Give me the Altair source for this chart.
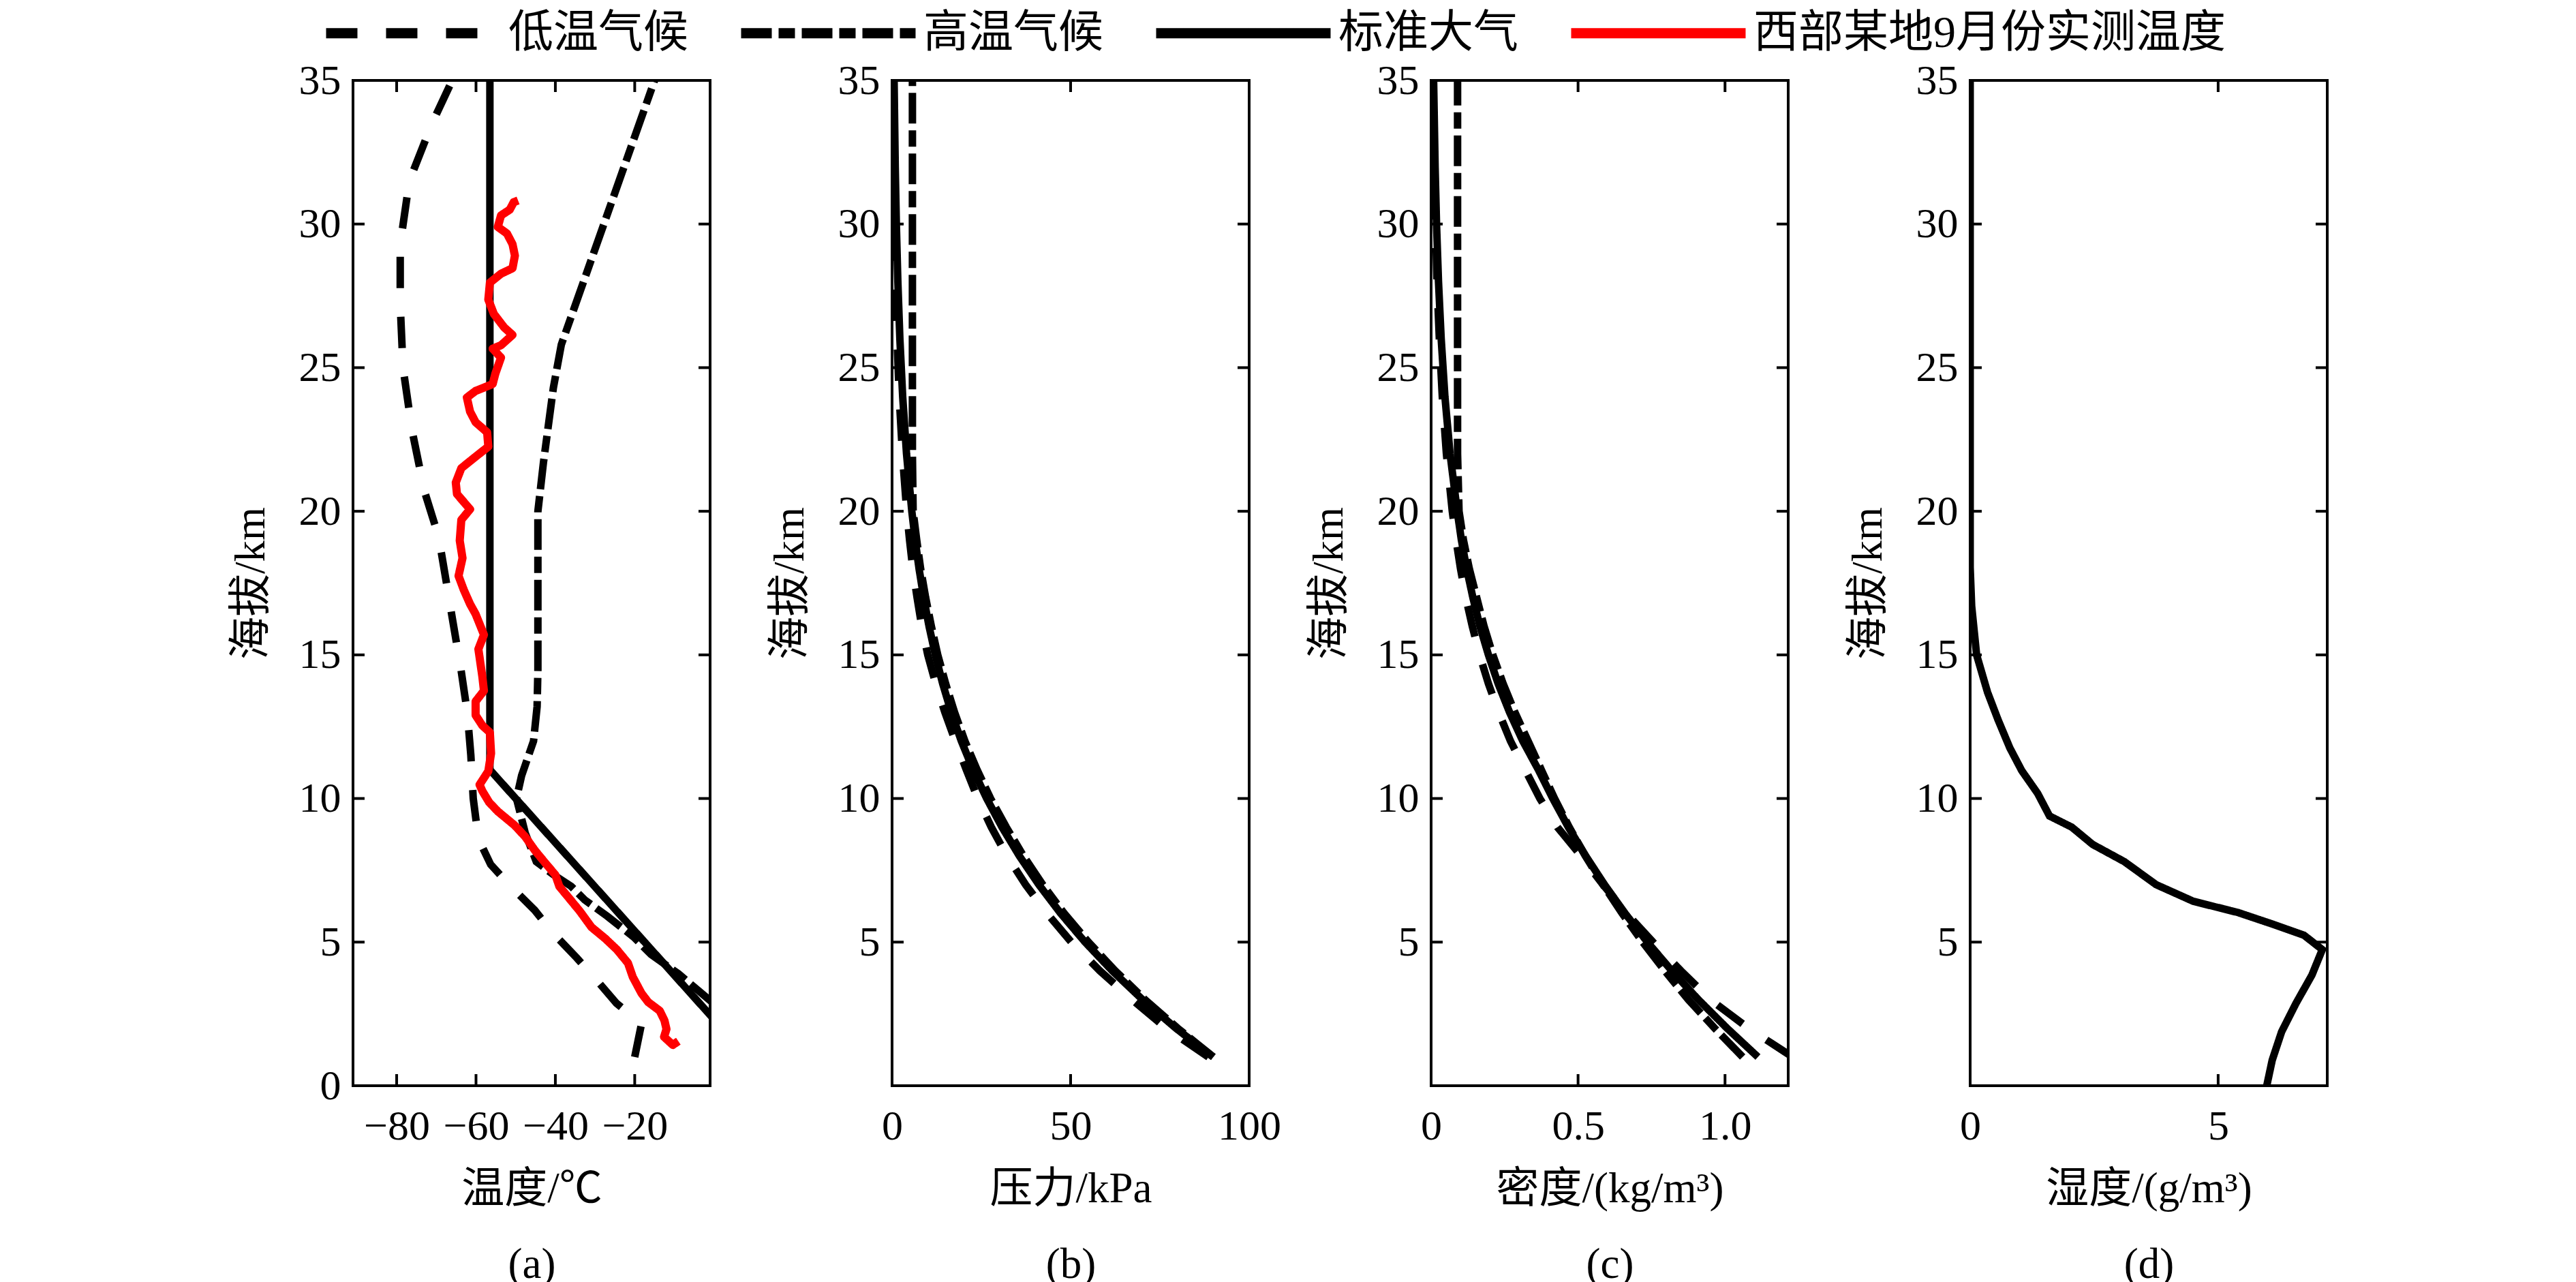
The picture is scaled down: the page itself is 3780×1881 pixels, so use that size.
import altair as alt
import pandas as pd

SERIES = ["低温气候", "高温气候", "标准大气", "西部某地9月份实测温度"]
COLORS = ["#000000", "#000000", "#000000", "#ff0000"]
DASHES = [[46, 42], [45, 10, 24, 10], [1, 0], [1, 0]]

# ---- panel (a): temperature (deg C) vs altitude (km)
A_LOW_T = [-20.0, -18.3, -24.6, -30.0, -34.6, -40.9, -45.2, -51.5, -56.3, -59.4, -60.7, -61.3,
           -62.2, -63.8, -66.0, -67.2, -69.4, -73.0, -76.1, -78.4, -79.1, -79.1, -76.8, -71.1, -66.0]
A_LOW_H = [1.0, 2.15, 2.87, 3.74, 4.45, 5.36, 6.11, 6.98, 7.7, 8.6, 10.0, 11.5,
           13.0, 14.5, 16.3, 17.3, 19.1, 20.7, 22.8, 25.0, 27.2, 29.3, 31.5, 33.5, 35.0]
A_HIGH_T = [0.0, -9.0, -15.9, -20.2, -26.9, -32.6, -36.0, -40.5, -44.8, -47.6, -49.8, -48.5,
            -45.5, -44.6, -44.4, -44.4, -43.0, -40.5, -38.5, -15.0]
A_HIGH_H = [2.85, 3.9, 4.57, 5.17, 5.9, 6.47, 6.94, 7.35, 7.8, 8.8, 10.0, 10.8,
            12.0, 13.2, 14.5, 20.0, 21.7, 24.3, 25.8, 35.0]
A_STD_T = [15.0, -56.5, -56.5]
A_STD_H = [0.0, 11.0, 35.0]
A_OBS_T = [-9.0, -10.4, -12.6, -12.0, -12.5, -13.7, -16.6, -18.3, -20.5, -21.7, -24.5, -27.4,
           -30.9, -33.8, -36.6, -39.0, -40.0, -42.4, -45.2, -47.6, -50.3, -54.5, -56.7, -58.4,
           -59.1, -56.9, -56.2, -56.5, -58.4, -60.1, -60.1, -58.0, -58.4, -59.4, -58.0, -60.1,
           -61.5, -63.1, -64.4, -63.4, -64.1, -63.7, -61.5, -64.8, -65.1, -63.7, -60.1, -56.9,
           -57.2, -60.1, -61.5, -62.3, -60.1, -55.8, -55.1, -53.7, -55.8, -53.7, -50.8, -52.9,
           -55.5, -56.9, -56.5, -53.7, -50.8, -50.2, -50.8, -52.2, -54.5, -53.7, -51.5, -50.5, -49.4]
A_OBS_H = [1.55, 1.42, 1.7, 1.97, 2.27, 2.61, 2.91, 3.22, 3.79, 4.27, 4.74, 5.12,
           5.52, 6.07, 6.54, 6.94, 7.34, 7.73, 8.2, 8.67, 9.07, 9.55, 9.87, 10.26,
           10.48, 10.95, 11.57, 12.3, 12.54, 12.9, 13.38, 13.75, 14.24, 15.2, 15.7, 16.42,
           16.77, 17.27, 17.75, 18.37, 18.98, 19.7, 20.07, 20.6, 21.0, 21.5, 21.9, 22.25,
           22.75, 23.1, 23.47, 23.96, 24.19, 24.43, 24.8, 25.35, 25.66, 25.78, 26.14, 26.4,
           26.87, 27.37, 27.96, 28.27, 28.46, 28.9, 29.3, 29.67, 29.9, 30.3, 30.5, 30.76, 30.82]

# ---- panels (b), (c): pressure (kPa) and density (kg/m3) vs altitude
BC_H = [1, 2, 3, 4, 5, 6, 7, 8, 9, 10, 11, 12, 13, 14, 15, 16, 17, 18, 19, 20, 22, 24, 26, 28, 30, 32, 35]
P_STD = [89.88, 79.50, 70.12, 61.66, 54.05, 47.22, 41.11, 35.65, 30.80, 26.50, 22.70, 19.40, 16.58, 14.17,
         12.11, 10.35, 8.85, 7.56, 6.47, 5.53, 4.05, 2.97, 2.19, 1.62, 1.20, 0.89, 0.57]
P_LOW = [88.6, 76.8, 67.2, 58.2, 50.2, 43.4, 37.4, 32.2, 27.8, 24.0, 20.8, 17.7, 14.8, 12.2,
         10.0, 8.3, 7.0, 5.8, 4.9, 4.1, 2.9, 2.0, 1.4, 1.0, 0.7, 0.5, 0.3]
P_HIGH = [90.0, 80.0, 70.8, 62.5, 55.0, 48.2, 42.2, 36.8, 32.0, 27.6, 23.8, 20.4, 17.5, 15.0,
          12.8, 11.0, 9.4, 8.0, 6.9, 5.9, 5.7, 5.7, 5.7, 5.7, 5.7, 5.7, 5.7]
D_STD = [1.112, 1.007, 0.909, 0.819, 0.736, 0.660, 0.590, 0.526, 0.467, 0.414, 0.365, 0.312, 0.267, 0.228,
         0.195, 0.166, 0.142, 0.121, 0.103, 0.0889, 0.0645, 0.0469, 0.0343, 0.0251, 0.0184, 0.0136, 0.0085]
D_LOW = [1.23, 1.08, 0.95, 0.85, 0.755, 0.665, 0.585, 0.51, 0.43, 0.37, 0.32, 0.27, 0.23, 0.195,
         0.165, 0.14, 0.118, 0.1, 0.085, 0.072, 0.052, 0.038, 0.028, 0.02, 0.015, 0.011, 0.007]
D_HIGH = [1.06, 0.965, 0.875, 0.795, 0.72, 0.65, 0.585, 0.525, 0.47, 0.42, 0.375, 0.33, 0.285, 0.245,
          0.21, 0.18, 0.155, 0.13, 0.11, 0.095, 0.09, 0.09, 0.09, 0.09, 0.09, 0.09, 0.09]

# ---- panel (d): humidity (g/m3) vs altitude
HUM_H = [0.0, 0.89, 1.88, 2.87, 3.85, 4.74, 5.24, 5.63, 6.03, 6.42, 7.0, 7.8, 8.4, 9.0, 9.39,
         10.18, 10.97, 11.76, 12.75, 13.7, 15.0, 16.7, 18.05, 35.0]
HUM_V = [5.98, 6.09, 6.28, 6.57, 6.89, 7.10, 6.73, 6.09, 5.4, 4.5, 3.75, 3.11, 2.47, 2.05, 1.6,
         1.36, 1.04, 0.8, 0.56, 0.35, 0.13, 0.03, 0.0, 0.0]

# axis ticks / domains
A_XDOM = [-91, -1]
A_XTICKS = [-80, -60, -40, -20]
B_XDOM = [0, 100]
B_XTICKS = [0, 50, 100]
C_XDOM = [0, 1.215]
C_XTICKS = [0, 0.5, 1.0]
D_XDOM = [0, 7.2]
D_XTICKS = [0, 5]
Y_TICKS_A = [0, 5, 10, 15, 20, 25, 30, 35]
Y_TICKS = [5, 10, 15, 20, 25, 30, 35]

W, H = 524, 1475
TICK = 17
SERIF = "Liberation Serif, Noto Sans CJK SC"
# legend line symbol: a horizontal stroke ~256 px long drawn in a 60 px symbol box
LEG_SYMBOL = "M-4.2667,0H4.2667"


def frame(xs, hs, name):
    return pd.DataFrame({"x": xs, "h": hs, "s": name, "i": list(range(len(xs)))})


def panel(black_df, red_df, xdom, xticks, xtitle, yticks, label_expr=None):
    xs = alt.Scale(domain=xdom, nice=False, zero=False)
    ys = alt.Scale(domain=[0, 35], nice=False, zero=False)
    ax_kw = dict(values=xticks, title=xtitle, labelFlush=False, labelPadding=29,
                 titlePadding=30, titleLineHeight=111)
    if label_expr:
        ax_kw["labelExpr"] = label_expr
    x_axis = alt.Axis(**ax_kw)
    y_axis = alt.Axis(values=yticks, title="海拔/km", labelPadding=18, titlePadding=38)
    leg = alt.Legend(title=None)
    enc = dict(
        x=alt.X("x:Q", scale=xs, axis=x_axis),
        y=alt.Y("h:Q", scale=ys, axis=y_axis),
        color=alt.Color("s:N", scale=alt.Scale(domain=SERIES, range=COLORS), legend=leg),
        strokeDash=alt.StrokeDash("s:N", scale=alt.Scale(domain=SERIES, range=DASHES), legend=leg),
        order=alt.Order("i:Q"),
    )
    layers = [alt.Chart(black_df).mark_line(strokeWidth=11, clip=True, strokeCap="butt",
                                            strokeJoin="miter").encode(**enc)]
    if red_df is not None:
        layers.append(alt.Chart(red_df).mark_line(strokeWidth=12, clip=True,
                                                  strokeJoin="round").encode(**enc))
    xt = pd.DataFrame({"x": xticks})
    yt = pd.DataFrame({"h": yticks})
    rule = dict(color="black", strokeWidth=4)
    layers += [
        alt.Chart(xt).mark_rule(**rule).encode(x=alt.X("x:Q", scale=xs, axis=x_axis),
                                               y=alt.value(H), y2=alt.value(H - TICK)),
        alt.Chart(xt).mark_rule(**rule).encode(x=alt.X("x:Q", scale=xs, axis=x_axis),
                                               y=alt.value(0), y2=alt.value(TICK)),
        alt.Chart(yt).mark_rule(**rule).encode(y=alt.Y("h:Q", scale=ys, axis=y_axis),
                                               x=alt.value(0), x2=alt.value(TICK)),
        alt.Chart(yt).mark_rule(**rule).encode(y=alt.Y("h:Q", scale=ys, axis=y_axis),
                                               x=alt.value(W), x2=alt.value(W - TICK)),
    ]
    return alt.layer(*layers).properties(width=W, height=H)


a_black = pd.concat([frame(A_LOW_T, A_LOW_H, SERIES[0]), frame(A_HIGH_T, A_HIGH_H, SERIES[1]),
                     frame(A_STD_T, A_STD_H, SERIES[2])], ignore_index=True)
a_red = frame(A_OBS_T, A_OBS_H, SERIES[3])
b_black = pd.concat([frame(P_LOW, BC_H, SERIES[0]), frame(P_HIGH, BC_H, SERIES[1]),
                     frame(P_STD, BC_H, SERIES[2])], ignore_index=True)
c_black = pd.concat([frame(D_LOW, BC_H, SERIES[0]), frame(D_HIGH, BC_H, SERIES[1]),
                     frame(D_STD, BC_H, SERIES[2])], ignore_index=True)
d_black = frame(HUM_V, HUM_H, SERIES[2])

pa = panel(a_black, a_red, A_XDOM, A_XTICKS, ["温度/℃", "(a)"], Y_TICKS_A)
pb = panel(b_black, None, B_XDOM, B_XTICKS, ["压力/kPa", "(b)"], Y_TICKS)
pc = panel(c_black, None, C_XDOM, C_XTICKS, ["密度/(kg/m³)", "(c)"], Y_TICKS,
           label_expr="datum.value == 0 ? '0' : format(datum.value, '.1f')")
pd_ = panel(d_black, None, D_XDOM, D_XTICKS, ["湿度/(g/m³)", "(d)"], Y_TICKS)

chart = (
    alt.hconcat(pa, pb, pc, pd_, spacing=267, bounds="flush")
    .resolve_scale(color="shared", strokeDash="shared")
    .properties(padding={"left": 327, "top": 3, "right": 10, "bottom": 0}, background="white")
    .configure_view(stroke="black", strokeWidth=4)
    .configure_axis(
        labelFont=SERIF, labelFontSize=62, labelColor="black",
        titleFont=SERIF, titleFontSize=63, titleFontWeight="normal", titleColor="black",
        ticks=False, domain=False, grid=False,
    )
    .configure_legend(
        orient="none", legendX=51, legendY=-107, direction="horizontal", columns=4,
        symbolType=LEG_SYMBOL, symbolSize=3600, symbolStrokeWidth=15,
        labelFont=SERIF, labelFontSize=66, labelColor="black", labelOffset=102,
        columnPadding=47, padding=0, labelLimit=1000,
    )
)

chart.save("out.html", embed_options={"renderer": "svg", "actions": False})
